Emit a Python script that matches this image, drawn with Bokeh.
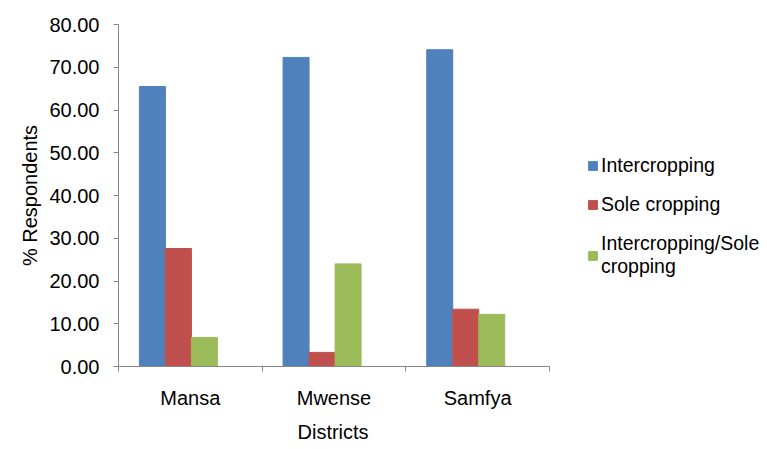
from bokeh.plotting import figure
from bokeh.models import (ColumnDataSource, Range1d, FixedTicker, LinearAxis,
                          NumeralTickFormatter, Legend, LegendItem, Title)
from bokeh.transform import dodge
from bokeh.embed import file_html
from bokeh.resources import INLINE

# ---- data ----
districts = ["Mansa", "Mwense", "Samfya"]
intercropping = [65.5, 72.3, 74.1]
sole_cropping = [27.6, 3.3, 13.4]
inter_sole = [6.8, 24.0, 12.2]
series_names = ["Intercropping", "Sole cropping", "Intercropping/Sole\ncropping"]
y_ticks = [0, 10, 20, 30, 40, 50, 60, 70, 80]
x_title = "Districts"

colors = ["#4F81BD", "#C0504D", "#9BBB59"]
FONT = "Liberation Sans"
FS = "20px"
AXIS_COLOR = "#868686"

W, H = 767, 449
LEFT, TOP, BOTTOM = 118, 24, 80
CAT_PX = 431 / 3.0
frame_w = W - LEFT
x_end = frame_w / CAT_PX  # frame extends right so legend fits inside it

centers = [i + 0.5 for i in range(len(districts))]
src = ColumnDataSource(dict(x=centers, s0=intercropping, s1=sole_cropping, s2=inter_sole))

p = figure(width=W, height=H, output_backend="svg", toolbar_location=None,
           x_range=Range1d(0, x_end), y_range=Range1d(0, 80),
           x_axis_location=None, y_axis_location=None,
           min_border_left=LEFT, min_border_right=0, min_border_top=TOP, min_border_bottom=BOTTOM)
p.outline_line_color = None
p.xgrid.visible = False
p.ygrid.visible = False

# y axis
yax = LinearAxis(ticker=FixedTicker(ticks=y_ticks), formatter=NumeralTickFormatter(format="0.00"))
yax.axis_label = "% Respondents"
yax.axis_line_color = AXIS_COLOR
yax.major_tick_line_color = AXIS_COLOR
yax.major_tick_out = 5
yax.major_tick_in = 0
yax.minor_tick_line_color = None
yax.major_label_text_font = FONT
yax.major_label_text_font_size = FS
yax.major_label_text_color = "black"
yax.major_label_standoff = 14
yax.axis_label_text_font = FONT
yax.axis_label_text_font_size = FS
yax.axis_label_text_font_style = "normal"
yax.axis_label_text_color = "black"
yax.axis_label_standoff = 5
p.add_layout(yax, "left")

# x axis line with boundary ticks
xax1 = LinearAxis(ticker=FixedTicker(ticks=list(range(len(districts) + 1))),
                  bounds=(0, len(districts)))
xax1.axis_line_color = AXIS_COLOR
xax1.major_tick_line_color = AXIS_COLOR
xax1.major_tick_out = 5
xax1.major_tick_in = 0
xax1.minor_tick_line_color = None
xax1.major_label_text_font_size = "0px"
xax1.major_label_standoff = 0
xax1.major_label_overrides = {i: "" for i in range(len(districts) + 1)}
p.add_layout(xax1, "below")

# category labels
xax2 = LinearAxis(ticker=FixedTicker(ticks=centers), bounds=(0, len(districts)))
xax2.major_label_overrides = {c: d for c, d in zip(centers, districts)}
xax2.axis_line_color = None
xax2.major_tick_line_color = None
xax2.minor_tick_line_color = None
xax2.major_tick_out = 0
xax2.major_label_text_font = FONT
xax2.major_label_text_font_size = FS
xax2.major_label_text_color = "black"
xax2.major_label_standoff = 15
p.add_layout(xax2, "below")

# x axis title, centred under the three categories
t = Title(text=x_title, align="left", offset=179, standoff=14,
          text_font=FONT, text_font_size=FS, text_font_style="normal", text_color="black")
p.add_layout(t, "below")

bw = 0.181
offsets = [-0.264, -0.083, 0.098]
renderers = []
for key, off, col in zip(["s0", "s1", "s2"], offsets, colors):
    r = p.vbar(x=dodge("x", off, range=p.x_range), top=key, width=bw, bottom=0,
               source=src, fill_color=col, line_color=col)
    renderers.append(r)

legend = Legend(items=[LegendItem(label=n, renderers=[r]) for n, r in zip(series_names, renderers)],
                location=(469, 88))
legend.border_line_color = None
legend.background_fill_alpha = 0
legend.label_text_font = FONT
legend.label_text_font_size = "19.5px"
legend.label_text_color = "black"
legend.glyph_width = 11
legend.glyph_height = 11
legend.label_standoff = 3
legend.spacing = 16
legend.padding = 0
legend.margin = 0
legend.label_height = 20
p.add_layout(legend)

open("out.html", "w").write(file_html(p, INLINE))
